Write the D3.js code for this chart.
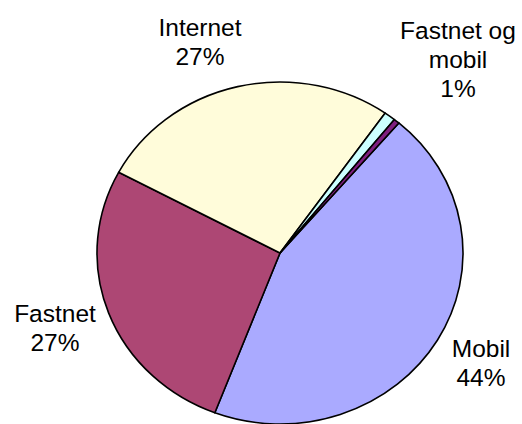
<!DOCTYPE html>
<html>
<head>
<meta charset="utf-8">
<script src="https://cdn.jsdelivr.net/npm/d3@7"></script>
<style>
  body { margin: 0; background: #fff; }
  text { font-family: "Liberation Sans", Arial, sans-serif; font-size: 24.5px; fill: #000; }
</style>
</head>
<body>
<div id="chart"></div>
<script>
let categories = ["Mobil", "Fastnet", "Internet", "Fastnet og mobil", "Andet"]
let values = [44.5, 27.0, 26.9, 1.0, 0.5]
let labelLines = [["Mobil", "44%"], ["Fastnet", "27%"], ["Internet", "27%"], ["Fastnet og", "mobil", "1%"], []]
let colors = ["#AAAAFF", "#AD4774", "#FFFCDA", "#CCFFFF", "#7F1F7F"]
// label anchor (centre x, first baseline y)
let labelPos = [[481, 357], [55, 322], [200, 36], [458, 39], [0, 0]]

let width = 522, height = 424
let pie_dims = { cx: 280, cy: 253, rx: 183, ry: 171 }

const svg = d3.select("#chart")
  .append("svg")
  .attr("width", width)
  .attr("height", height)

let pie = d3.pie()
  .sort(null)
  .value(d => d.value)
  .startAngle(40.5 * Math.PI / 180)
  .endAngle(40.5 * Math.PI / 180 + 2 * Math.PI)

let data = categories.map((c, i) => ({ name: c, value: values[i], color: colors[i] }))

let r = 100
let arc = d3.arc().innerRadius(0).outerRadius(r)

const g = svg.append("g")
  .attr("transform", `translate(${pie_dims.cx},${pie_dims.cy}) scale(${pie_dims.rx / r},${pie_dims.ry / r})`)

g.selectAll("path")
  .data(pie(data))
  .join("path")
  .attr("d", arc)
  .attr("fill", d => d.data.color)
  .attr("stroke", "#000")
  .attr("stroke-width", 1.6)
  .attr("stroke-linejoin", "round")
  .attr("vector-effect", "non-scaling-stroke")

labelLines.forEach((lines, i) => {
  if (!lines.length) return
  let t = svg.append("text")
    .attr("text-anchor", "middle")
    .attr("x", labelPos[i][0])
    .attr("y", labelPos[i][1])
  lines.forEach((ln, j) => {
    t.append("tspan")
      .attr("x", labelPos[i][0])
      .attr("dy", j === 0 ? 0 : 29)
      .text(ln)
  })
})
</script>
</body>
</html>
